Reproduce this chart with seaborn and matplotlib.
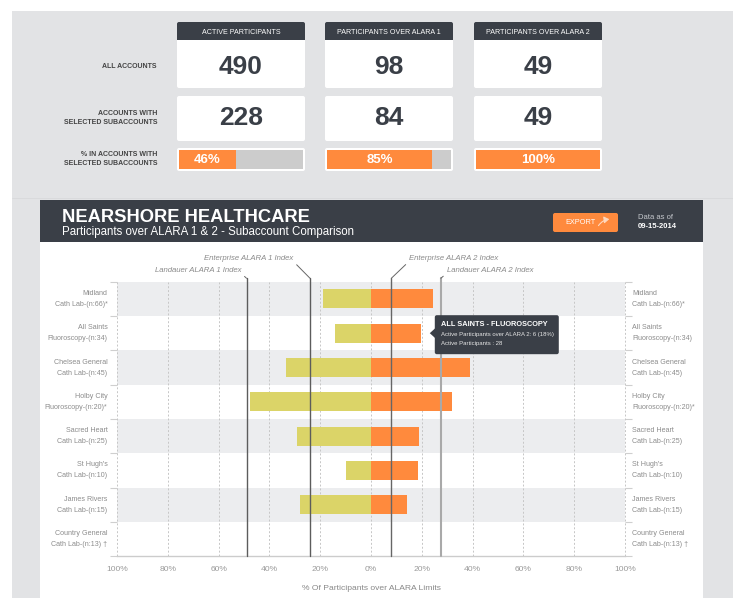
"""ALARA subaccount comparison dashboard"""

import matplotlib
matplotlib.use("Agg")
import matplotlib.pyplot as plt
import seaborn as sns
import pandas as pd
from matplotlib.patches import Rectangle, FancyBboxPatch, Polygon, FancyArrowPatch
from matplotlib.transforms import IdentityTransform, blended_transform_factory, offset_copy

###########################################################
# Data
###########################################################

kpi_headers = ["ACTIVE PARTICIPANTS", "PARTICIPANTS OVER ALARA 1", "PARTICIPANTS OVER ALARA 2"]
kpi_rows = ["ALL ACCOUNTS", "ACCOUNTS WITH\nSELECTED SUBACCOUNTS",
            "% IN ACCOUNTS WITH\nSELECTED SUBACCOUNTS"]
all_accounts = [490, 98, 49]
selected_accounts = [228, 84, 49]
selected_pct = [46, 85, 100]

sites = ["Midland", "All Saints", "Chelsea General", "Holby City",
         "Sacred Heart", "St Hugh's", "James Rivers", "Country General"]
units = ["Cath Lab-(n:66)*", "Fluoroscopy-(n:34)", "Cath Lab-(n:45)", "Fluoroscopy-(n:20)*",
         "Cath Lab-(n:25)", "Cath Lab-(n:10)", "Cath Lab-(n:15)", "Cath Lab-(n:13) \u2020"]
alara1_pct = [19, 14, 33.5, 47.5, 29, 10, 28, 0]
alara2_pct = [24.3, 19.8, 39, 32, 19, 18.5, 14, 0]

index_names = ["Landauer ALARA 1 Index", "Enterprise ALARA 1 Index",
               "Enterprise ALARA 2 Index", "Landauer ALARA 2 Index"]
index_values = [-49, -24, 8, 27.5]

tooltip_lines = ["ALL SAINTS - FLUOROSCOPY",
                 "Active Participants over ALARA 2: 6 (18%)",
                 "Active Participants : 28"]

###########################################################
# Style
###########################################################

DARK = "#3a3f47"
ORANGE = "#ff8a3d"
YELLOW = "#dbd468"
PANEL = "#e2e3e5"
BAND = "#ecedef"

sns.set_style("white")
plt.rcParams["font.family"] = ["Liberation Sans", "DejaVu Sans"]

W, H = 733, 598
fig = plt.figure(figsize=(W / 100, H / 100), dpi=100)
fig.patch.set_facecolor("white")


def px_rect(x0, y0, x1, y1, color, r=0, z=-5):
    if r:
        p = FancyBboxPatch((x0, H - y1), x1 - x0, y1 - y0,
                           boxstyle=f"round,pad=0,rounding_size={r}",
                           transform=IdentityTransform(), fc=color, ec="none", zorder=z)
    else:
        p = Rectangle((x0, H - y1), x1 - x0, y1 - y0,
                      transform=IdentityTransform(), fc=color, ec="none", zorder=z)
    fig.add_artist(p)


def px_text(x, y, s, **kw):
    fig.text(x / W, 1 - y / H, s, **kw)


def px_axes(x0, y0, x1, y1):
    return fig.add_axes([x0 / W, 1 - y1 / H, (x1 - x0) / W, (y1 - y0) / H])


###########################################################
# Background and KPI cards
###########################################################

px_rect(12, 11, W, H, PANEL, z=-10)
fig.add_artist(plt.Line2D([12 / W, 1], [1 - 198 / H] * 2, color="#d8d9db", lw=0.6, zorder=-9))

card_x = [(177, 305), (325, 453), (474, 602)]
for (x0, x1), head, v1, v2, pct in zip(card_x, kpi_headers, all_accounts,
                                      selected_accounts, selected_pct):
    px_rect(x0, 22, x1, 44, DARK, r=2)
    px_rect(x0, 40, x1, 88, "white", r=2)
    px_rect(x0, 40, x1, 46, "white")
    px_rect(x0, 96, x1, 141, "white", r=2)
    px_rect(x0, 148, x1, 171, "white", r=2)
    cx = (x0 + x1) / 2
    px_text(cx, 33, head, color="white", fontsize=5.1, ha="center", va="center")
    px_text(cx, 67, str(v1), color=DARK, fontsize=19, fontweight="bold", ha="center", va="center")
    px_text(cx, 118, str(v2), color=DARK, fontsize=19, fontweight="bold", ha="center", va="center")

    pax = px_axes(x0 + 2, 150, x1 - 2, 169)
    pax.barh([0], [pct], height=1, color=ORANGE, lw=0)
    pax.set_xlim(0, 100)
    pax.set_ylim(-0.5, 0.5)
    pax.set_facecolor("#cccccc")
    pax.set_xticks([])
    pax.set_yticks([])
    for s in pax.spines.values():
        s.set_visible(False)
    pax.text(pct / 2, -0.04, f"{pct}%", color="white", fontsize=9.5, fontweight="bold",
             ha="center", va="center")

for y, lab in zip([67, 118, 159], kpi_rows):
    px_text(157, y, lab, color="#444444", fontsize=5, fontweight="bold",
            ha="right", va="center", linespacing=1.5)

###########################################################
# Chart card header
###########################################################

px_rect(40, 200, 703, 242, DARK, z=-8)
px_rect(40, 242, 703, H, "white", z=-8)
px_text(62, 217.5, "NEARSHORE HEALTHCARE", color="white", fontsize=13.2,
        fontweight="bold", ha="left", va="center")
px_text(62, 232, "Participants over ALARA 1 & 2 - Subaccount Comparison", color="white",
        fontsize=8.3, ha="left", va="center")
px_rect(553, 213, 618, 232, ORANGE, r=2, z=-7)
px_text(565, 223, "EXPORT", color="white", fontsize=5.3, ha="left", va="center")
fig.add_artist(FancyArrowPatch((597, H - 228), (612, H - 219), transform=IdentityTransform(),
                               arrowstyle="-|>,head_length=3,head_width=2",
                               connectionstyle="arc3,rad=-0.3", color="#ffd9bf", lw=0.8))
px_text(638, 217.3, "Data as of", color="#c5c8cd", fontsize=5.5, ha="left", va="center")
px_text(638, 226.7, "09-15-2014", color="white", fontsize=5.5, fontweight="bold",
        ha="left", va="center")

###########################################################
# Diverging bar chart
###########################################################

ax = px_axes(117, 281.7, 625, 556.3)
ax.set_facecolor("white")
labels = [f"{s}|{u}" for s, u in zip(sites, units)]
df = pd.DataFrame({"label": labels * 2,
                   "pct": [-v for v in alara1_pct] + alara2_pct,
                   "series": ["ALARA 1"] * len(labels) + ["ALARA 2"] * len(labels)})

for i in range(0, len(labels), 2):
    ax.axhspan(i - 0.5, i + 0.5, color=BAND, lw=0, zorder=0)

sns.barplot(data=df[df.series == "ALARA 1"], x="pct", y="label", orient="h",
            color=YELLOW, width=0.55, errorbar=None, lw=0, saturation=1, ax=ax, zorder=2)
sns.barplot(data=df[df.series == "ALARA 2"], x="pct", y="label", orient="h",
            color=ORANGE, width=0.55, errorbar=None, lw=0, saturation=1, ax=ax, zorder=2)

ticks = list(range(-100, 101, 20))
for t in ticks:
    ax.axvline(t, color="#c6c6c6", lw=0.7, ls=(0, (2, 2)), zorder=1, clip_on=False)

ax.set_xlim(-100, 100)
ax.set_ylim(len(labels) - 0.5, -0.5)
ax.set_xticks(ticks, labels=[f"{abs(t)}%" for t in ticks])
ax.tick_params(axis="x", length=0, pad=6.8, labelsize=6.1, labelcolor="#9a9a9a")
ax.set_yticks(range(len(labels)))
ax.tick_params(axis="y", which="major", left=False, labelleft=False)
ax.set_yticks([i - 0.5 for i in range(len(labels) + 1)], minor=True)
ax.tick_params(axis="y", which="minor", left=True, right=True, length=4.8,
               width=0.8, color="#cfcfcf")
ax.set_xlabel("% Of Participants over ALARA Limits", fontsize=6.1, color="#888888", labelpad=9)
ax.set_ylabel("")
for side in ["left", "right", "top"]:
    ax.spines[side].set_visible(False)
ax.spines["bottom"].set_color("#cccccc")
ax.spines["bottom"].set_linewidth(1)

# two-line row labels on both sides
row_tr = blended_transform_factory(ax.transAxes, ax.transData)
left_tr = offset_copy(row_tr, fig=fig, x=-9.6, y=0, units="dots")
right_tr = offset_copy(row_tr, fig=fig, x=7, y=0, units="dots")
for i, (s, u) in enumerate(zip(sites, units)):
    ax.text(0, i, f"{s}\n{u}", transform=left_tr, ha="right", va="center",
            fontsize=5.1, color="#8c8c8c", linespacing=1.8)
    ax.text(1, i, f"{s}\n{u}", transform=right_tr, ha="left", va="center",
            fontsize=5.1, color="#8c8c8c", linespacing=1.8)

# index lines with leader labels
top = 1 + 3.4 / 274.6
line_colors = ["#5c5c5c", "#5c5c5c", "#666666", "#a9a9a9"]
line_widths = [1, 1, 1, 1.5]
offsets = [(-3.8, 5.3), (-12.0, 13.9), (12.7, 13.9), (4.1, 5.3)]
for name, v, c, w, off in zip(index_names, index_values, line_colors, line_widths, offsets):
    ax.axvline(v, ymin=0, ymax=top, color=c, lw=w, zorder=3, clip_on=False)
    left = v < 0
    ax.annotate(name, xy=(v, top), xycoords=("data", "axes fraction"),
                xytext=off, textcoords="offset points",
                ha="right" if left else "left", va="center",
                fontsize=5.6, style="italic", color="#8a8a8a",
                arrowprops=dict(arrowstyle="-", color="#666666", lw=0.7,
                                shrinkA=0, shrinkB=0,
                                relpos=(1, 0.15) if left else (0, 0.15)))

# tooltip anchored on the All Saints ALARA 2 bar
tx, ty = ax.transData.transform((alara2_pct[1], 1))
tip_x = tx + 8.5
box = FancyBboxPatch((tip_x + 5, ty - 21), 124, 39, boxstyle="round,pad=0,rounding_size=2",
                     transform=IdentityTransform(), fc=DARK, ec="none", zorder=10)
fig.add_artist(box)
fig.add_artist(Polygon([(tip_x, ty), (tip_x + 5.5, ty + 5), (tip_x + 5.5, ty - 5)],
                       closed=True, transform=IdentityTransform(), fc=DARK, ec="none", zorder=10))
fig.text((tip_x + 11) / W, (ty + 8.5) / H, tooltip_lines[0], color="white", fontsize=5.3,
         fontweight="bold", ha="left", va="center", zorder=11)
fig.text((tip_x + 11) / W, (ty - 1.5) / H, tooltip_lines[1], color="#e6e6e6", fontsize=4.3,
         ha="left", va="center", zorder=11)
fig.text((tip_x + 11) / W, (ty - 10.5) / H, tooltip_lines[2], color="#e6e6e6", fontsize=4.3,
         ha="left", va="center", zorder=11)

fig.savefig("out.png", dpi=100)
